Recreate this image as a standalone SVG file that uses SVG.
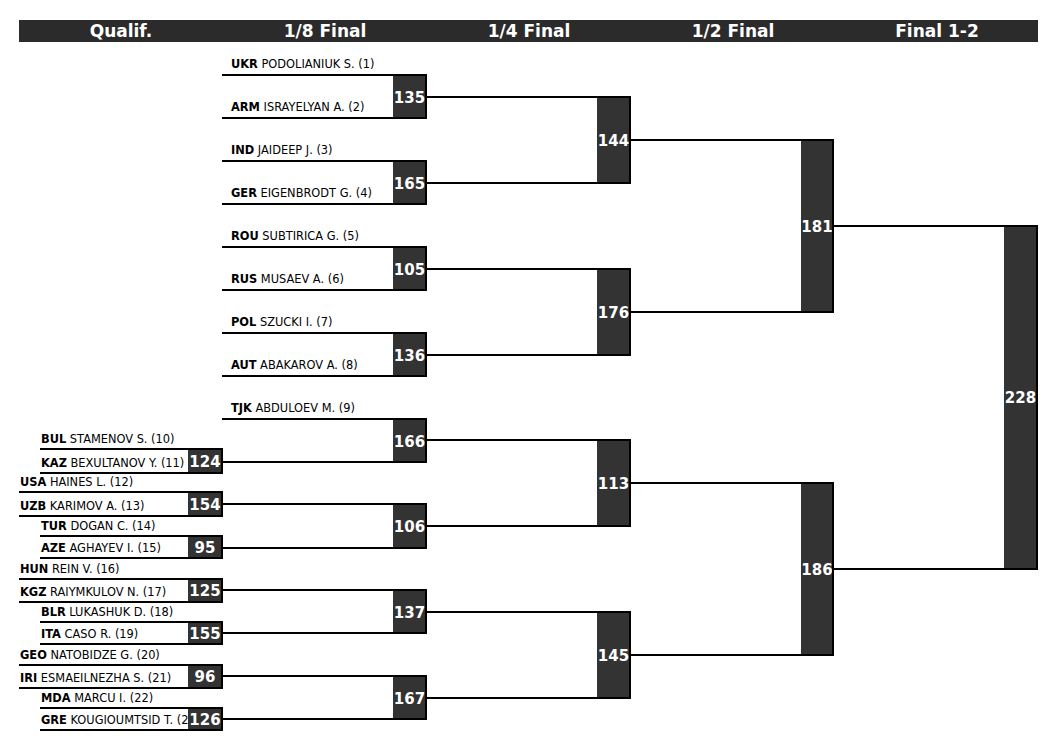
<svg xmlns="http://www.w3.org/2000/svg" width="1057" height="742" viewBox="0 0 1057 742">
<style>
.hd{font-family:"DejaVu Sans",sans-serif;font-weight:bold;font-size:17px;fill:#fff;text-anchor:middle}
.en{font-family:"DejaVu Sans",sans-serif;font-size:11.4px;fill:#000}
.en tspan.c{font-weight:bold}
.bx{fill:#333}
.num{font-family:"DejaVu Sans",sans-serif;font-weight:bold;font-size:15px;fill:#fff;text-anchor:middle}
.cn{fill:none;stroke:#000;stroke-width:2}
</style>
<rect x="19" y="20" width="1019" height="22" fill="#2b2b2b"/>
<g id="headers">
<text class="hd" x="121" y="37">Qualif.</text>
<text class="hd" x="325" y="37">1/8 Final</text>
<text class="hd" x="529" y="37">1/4 Final</text>
<text class="hd" x="733" y="37">1/2 Final</text>
<text class="hd" x="937" y="37">Final 1-2</text>
</g>
<g id="entries">
<g id="e1"><text class="en" x="231" y="68"><tspan class="c">UKR</tspan> PODOLIANIUK S. (1)</text></g>
<g id="e2"><text class="en" x="231" y="111"><tspan class="c">ARM</tspan> ISRAYELYAN A. (2)</text></g>
<g id="e3"><text class="en" x="231" y="154"><tspan class="c">IND</tspan> JAIDEEP J. (3)</text></g>
<g id="e4"><text class="en" x="231" y="197"><tspan class="c">GER</tspan> EIGENBRODT G. (4)</text></g>
<g id="e5"><text class="en" x="231" y="240"><tspan class="c">ROU</tspan> SUBTIRICA G. (5)</text></g>
<g id="e6"><text class="en" x="231" y="283"><tspan class="c">RUS</tspan> MUSAEV A. (6)</text></g>
<g id="e7"><text class="en" x="231" y="326"><tspan class="c">POL</tspan> SZUCKI I. (7)</text></g>
<g id="e8"><text class="en" x="231" y="369"><tspan class="c">AUT</tspan> ABAKAROV A. (8)</text></g>
<g id="e9"><text class="en" x="231" y="412"><tspan class="c">TJK</tspan> ABDULOEV M. (9)</text></g>
<g id="e10"><text class="en" x="41" y="443"><tspan class="c">BUL</tspan> STAMENOV S. (10)</text></g>
<g id="e11"><text class="en" x="41" y="467"><tspan class="c">KAZ</tspan> BEXULTANOV Y. (11)</text></g>
<g id="e12"><text class="en" x="20" y="486"><tspan class="c">USA</tspan> HAINES L. (12)</text></g>
<g id="e13"><text class="en" x="20" y="510"><tspan class="c">UZB</tspan> KARIMOV A. (13)</text></g>
<g id="e14"><text class="en" x="41" y="530"><tspan class="c">TUR</tspan> DOGAN C. (14)</text></g>
<g id="e15"><text class="en" x="41" y="552"><tspan class="c">AZE</tspan> AGHAYEV I. (15)</text></g>
<g id="e16"><text class="en" x="20" y="573"><tspan class="c">HUN</tspan> REIN V. (16)</text></g>
<g id="e17"><text class="en" x="20" y="596"><tspan class="c">KGZ</tspan> RAIYMKULOV N. (17)</text></g>
<g id="e18"><text class="en" x="41" y="616"><tspan class="c">BLR</tspan> LUKASHUK D. (18)</text></g>
<g id="e19"><text class="en" x="41" y="638"><tspan class="c">ITA</tspan> CASO R. (19)</text></g>
<g id="e20"><text class="en" x="20" y="659"><tspan class="c">GEO</tspan> NATOBIDZE G. (20)</text></g>
<g id="e21"><text class="en" x="20" y="682"><tspan class="c">IRI</tspan> ESMAEILNEZHA S. (21)</text></g>
<g id="e22"><text class="en" x="41" y="702"><tspan class="c">MDA</tspan> MARCU I. (22)</text></g>
<g id="e23"><text class="en" x="41" y="724"><tspan class="c">GRE</tspan> KOUGIOUMTSID T. (23)</text></g>
</g>
<g id="matches">
<g id="q124"><rect class="bx" x="188" y="449" width="34" height="24"/><text class="num" x="205" y="467">124</text></g>
<g id="q154"><rect class="bx" x="188" y="492" width="34" height="24"/><text class="num" x="205" y="510">154</text></g>
<g id="q95"><rect class="bx" x="188" y="536" width="34" height="22"/><text class="num" x="205" y="553">95</text></g>
<g id="q125"><rect class="bx" x="188" y="579" width="34" height="23"/><text class="num" x="205" y="596">125</text></g>
<g id="q155"><rect class="bx" x="188" y="622" width="34" height="22"/><text class="num" x="205" y="639">155</text></g>
<g id="q96"><rect class="bx" x="188" y="665" width="34" height="23"/><text class="num" x="205" y="682">96</text></g>
<g id="q126"><rect class="bx" x="188" y="708" width="34" height="22"/><text class="num" x="205" y="725">126</text></g>

<g id="r135"><rect class="bx" x="393" y="75" width="33" height="43"/><text class="num" x="409.5" y="102.5">135</text></g>
<g id="r165"><rect class="bx" x="393" y="161" width="33" height="43"/><text class="num" x="409.5" y="188.5">165</text></g>
<g id="r105"><rect class="bx" x="393" y="247" width="33" height="43"/><text class="num" x="409.5" y="274.5">105</text></g>
<g id="r136"><rect class="bx" x="393" y="333" width="33" height="43"/><text class="num" x="409.5" y="360.5">136</text></g>
<g id="r166"><rect class="bx" x="393" y="419" width="33" height="43"/><text class="num" x="409.5" y="446.5">166</text></g>
<g id="r106"><rect class="bx" x="393" y="504" width="33" height="44"/><text class="num" x="409.5" y="531.5">106</text></g>
<g id="r137"><rect class="bx" x="393" y="590" width="33" height="43"/><text class="num" x="409.5" y="617.5">137</text></g>
<g id="r167"><rect class="bx" x="393" y="676" width="33" height="43"/><text class="num" x="409.5" y="703.5">167</text></g>

<g id="q144"><rect class="bx" x="597" y="97" width="33" height="86"/><text class="num" x="613.5" y="145.5">144</text></g>
<g id="q176"><rect class="bx" x="597" y="269" width="33" height="86"/><text class="num" x="613.5" y="317.5">176</text></g>
<g id="q113"><rect class="bx" x="597" y="440" width="33" height="86"/><text class="num" x="613.5" y="488.5">113</text></g>
<g id="q145"><rect class="bx" x="597" y="612" width="33" height="86"/><text class="num" x="613.5" y="660.5">145</text></g>

<g id="s181"><rect class="bx" x="801" y="140" width="32" height="172"/><text class="num" x="817" y="231.5">181</text></g>
<g id="s186"><rect class="bx" x="801" y="483" width="32" height="172"/><text class="num" x="817" y="574.5">186</text></g>

<g id="f228"><rect class="bx" x="1004" y="226" width="33" height="343"/><text class="num" x="1020.5" y="402.5">228</text></g>
</g>
<g id="connectors">
<path class="cn" d="M40 449H222V473H40"/>
<path class="cn" d="M19 492H222V516H19"/>
<path class="cn" d="M40 536H222V558H40"/>
<path class="cn" d="M19 579H222V602H19"/>
<path class="cn" d="M40 622H222V644H40"/>
<path class="cn" d="M19 665H222V688H19"/>
<path class="cn" d="M40 708H222V730H40"/>

<path class="cn" d="M222 75H426V118H222"/>
<path class="cn" d="M222 161H426V204H222"/>
<path class="cn" d="M222 247H426V290H222"/>
<path class="cn" d="M222 333H426V376H222"/>
<path class="cn" d="M222 419H426V462H222"/>
<path class="cn" d="M222 504H426V548H222"/>
<path class="cn" d="M222 590H426V633H222"/>
<path class="cn" d="M222 676H426V719H222"/>

<path class="cn" d="M426 97H630V183H426"/>
<path class="cn" d="M426 269H630V355H426"/>
<path class="cn" d="M426 440H630V526H426"/>
<path class="cn" d="M426 612H630V698H426"/>

<path class="cn" d="M630 140H833V312H630"/>
<path class="cn" d="M630 483H833V655H630"/>

<path class="cn" d="M833 226H1037V569H833"/>
</g>
</svg>
